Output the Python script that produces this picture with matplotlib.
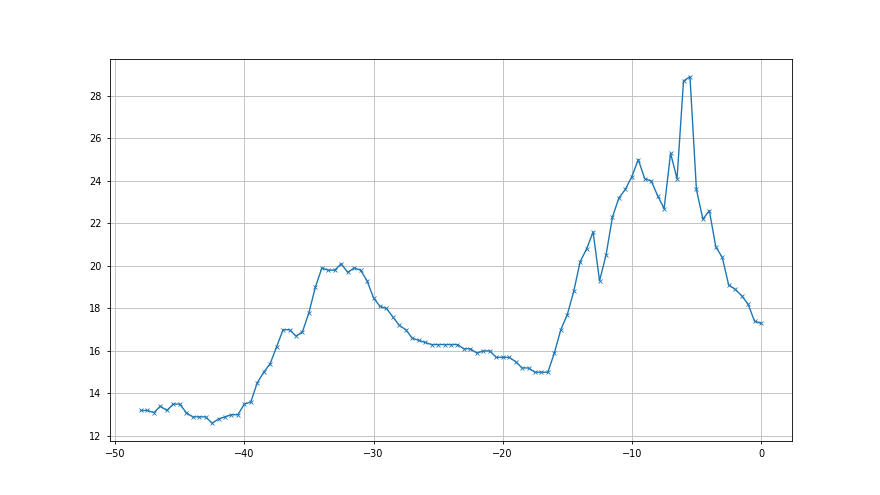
import matplotlib
matplotlib.use("Agg")
import matplotlib.pyplot as plt
import numpy as np

x_start = -48.0
x_step = 0.5
values = [
    13.2, 13.2, 13.1, 13.4, 13.2, 13.5, 13.5, 13.1, 12.9, 12.9,
    12.9, 12.6, 12.8, 12.9, 13.0, 13.0, 13.5, 13.6, 14.5, 15.0,
    15.4, 16.2, 17.0, 17.0, 16.7, 16.9, 17.8, 19.0, 19.9, 19.8,
    19.8, 20.1, 19.7, 19.9, 19.8, 19.3, 18.5, 18.1, 18.0, 17.6,
    17.2, 17.0, 16.6, 16.5, 16.4, 16.3, 16.3, 16.3, 16.3, 16.3,
    16.1, 16.1, 15.9, 16.0, 16.0, 15.7, 15.7, 15.7, 15.5, 15.2,
    15.2, 15.0, 15.0, 15.0, 15.9, 17.0, 17.7, 18.8, 20.2, 20.8,
    21.6, 19.3, 20.5, 22.3, 23.2, 23.6, 24.2, 25.0, 24.1, 24.0,
    23.3, 22.7, 25.3, 24.1, 28.7, 28.9, 23.6, 22.2, 22.6, 20.9,
    20.4, 19.1, 18.9, 18.6, 18.2, 17.4, 17.3,
]
x = x_start + x_step * np.arange(len(values))

plt.rcParams['font.size'] = 7
fig, ax = plt.subplots(figsize=(8.8, 4.95), dpi=100)
ax.plot(x, values, marker='x', color='#1f77b4', linewidth=1.0, markersize=3.5, markeredgewidth=0.6)
ax.grid(True, color='#c4c4c4', linewidth=0.7)
ax.tick_params(length=2.5, width=0.6)
for s in ax.spines.values():
    s.set_linewidth(0.6)
fig.savefig("out.png", dpi=100)
